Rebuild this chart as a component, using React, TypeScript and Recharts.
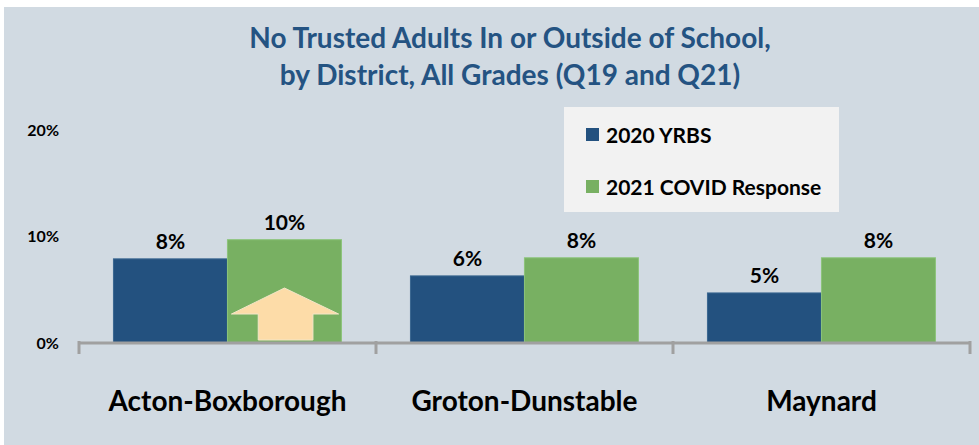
import React from 'react';
import { BarChart, Bar, XAxis, YAxis, LabelList, Legend } from 'recharts';

const categories = ['Acton-Boxborough', 'Groton-Dunstable', 'Maynard'];
const yrbs2020 = [7.9, 6.3, 4.7];
const covid2021 = [9.7, 8.0, 8.0];
const labels2020 = ['8%', '6%', '5%'];
const labels2021 = ['10%', '8%', '8%'];
const increaseArrow = [true, false, false];
const yTicks = [0, 10, 20];
const seriesNames = ['2020 YRBS', '2021 COVID Response'];
const titleLines = ['No Trusted Adults In or Outside of School,', 'by District, All Grades (Q19 and Q21)'];

const BLUE = '#23517F';
const GREEN = '#78B062';
const PEACH = '#FDDCA8';
const AXIS = '#A0A0A0';
const BG = '#D1DAE2';
const FONT = 'Lato, "Open Sans", sans-serif';

const data = categories.map((c, i) => ({
  name: c,
  y2020: yrbs2020[i],
  y2021: covid2021[i],
  l2020: labels2020[i],
  l2021: labels2021[i],
  arrow: increaseArrow[i],
}));

const GreenShape = (props: any) => {
  const { x, y, width, height, payload } = props;
  const bottom = y + height;
  return (
    <g>
      <rect x={x} y={y} width={width} height={height} fill={GREEN} stroke="#8CC47A" strokeWidth={1} />
      {payload && payload.arrow ? (
        <polygon
          points={[
            [x + width * 0.5, bottom - 55],
            [x + width * 0.975, bottom - 29],
            [x + width * 0.75, bottom - 29],
            [x + width * 0.75, bottom - 3],
            [x + width * 0.27, bottom - 3],
            [x + width * 0.27, bottom - 29],
            [x + width * 0.035, bottom - 29],
          ]
            .map((p) => p.join(','))
            .join(' ')}
          fill={PEACH}
          stroke="#F3E6C8"
          strokeWidth={1}
        />
      ) : null}
    </g>
  );
};

const BlueShape = (props: any) => {
  const { x, y, width, height } = props;
  return <rect x={x} y={y} width={width} height={height} fill={BLUE} stroke="#3A6690" strokeWidth={1} />;
};

const XTick = (props: any) => {
  const { x, y, payload, index } = props;
  const half = payload && payload.offset ? payload.offset : 148.5;
  const lastIndex = categories.length - 1;
  return (
    <g>
      <line x1={x - half} x2={x - half} y1={y - 2} y2={y + 11} stroke={AXIS} strokeWidth={3} />
      {index === lastIndex ? (
        <line x1={x + half} x2={x + half} y1={y - 2} y2={y + 11} stroke={AXIS} strokeWidth={3} />
      ) : null}
      <text
        x={x}
        y={y + 57}
        textAnchor="middle"
        dominantBaseline="central"
        fontFamily={FONT}
        fontWeight={700}
        fontSize={28}
        fill="#000"
      >
        {payload.value}
      </text>
    </g>
  );
};

const LegendBox = () => (
  <div
    style={{
      position: 'absolute',
      left: 560,
      top: 100,
      width: 275,
      height: 105,
      background: '#F2F2F2',
      fontFamily: FONT,
      fontWeight: 700,
      fontSize: 21,
      color: '#000',
    }}
  >
    {seriesNames.map((n, i) => (
      <div
        key={n}
        style={{ position: 'absolute', left: 22, top: i === 0 ? 15 : 67, height: 24, display: 'flex', alignItems: 'center' }}
      >
        <span style={{ display: 'inline-block', width: 13, height: 13, background: i === 0 ? BLUE : GREEN, marginRight: 7 }} />
        <span>{n}</span>
      </div>
    ))}
  </div>
);

export default function App() {
  return (
    <div style={{ position: 'absolute', left: 4, top: 7, width: 975, height: 438, background: BG }}>
      <div
        style={{
          position: 'absolute',
          left: 510 - 4 - 350,
          top: 12,
          width: 700,
          textAlign: 'center',
          fontFamily: FONT,
          fontWeight: 700,
          fontSize: 28,
          lineHeight: '37px',
          color: '#245382',
        }}
      >
        {titleLines.map((t) => (
          <div key={t}>{t}</div>
        ))}
      </div>
      <BarChart
        width={975}
        height={438}
        data={data}
        margin={{ top: 123, right: 9, left: 0, bottom: 42 }}
        barCategoryGap="11.6%"
        barGap={0}
      >
        <XAxis
          dataKey="name"
          axisLine={{ stroke: AXIS, strokeWidth: 3 }}
          tickLine={false}
          tickSize={0}
          tickMargin={0}
          height={60}
          tick={<XTick />}
          interval={0}
        />
        <YAxis
          domain={[0, 20]}
          ticks={yTicks}
          width={75}
          axisLine={false}
          tickLine={false}
          tickSize={0}
          tickMargin={20}
          tickFormatter={(v: number) => `${v}%`}
          tick={{ fontFamily: FONT, fontWeight: 700, fontSize: 16, fill: '#000' }}
        />
        <Legend content={() => <LegendBox />} wrapperStyle={{ position: 'absolute', left: 0, top: 0, width: 0, height: 0 }} />
        <Bar dataKey="y2020" name={seriesNames[0]} fill={BLUE} shape={<BlueShape />} isAnimationActive={false}>
          <LabelList
            dataKey="l2020"
            position="top"
            offset={10}
            style={{ fontFamily: FONT, fontWeight: 700, fontSize: 21, fill: '#000' }}
          />
        </Bar>
        <Bar dataKey="y2021" name={seriesNames[1]} fill={GREEN} shape={<GreenShape />} isAnimationActive={false}>
          <LabelList
            dataKey="l2021"
            position="top"
            offset={10}
            style={{ fontFamily: FONT, fontWeight: 700, fontSize: 21, fill: '#000' }}
          />
        </Bar>
      </BarChart>
    </div>
  );
}
